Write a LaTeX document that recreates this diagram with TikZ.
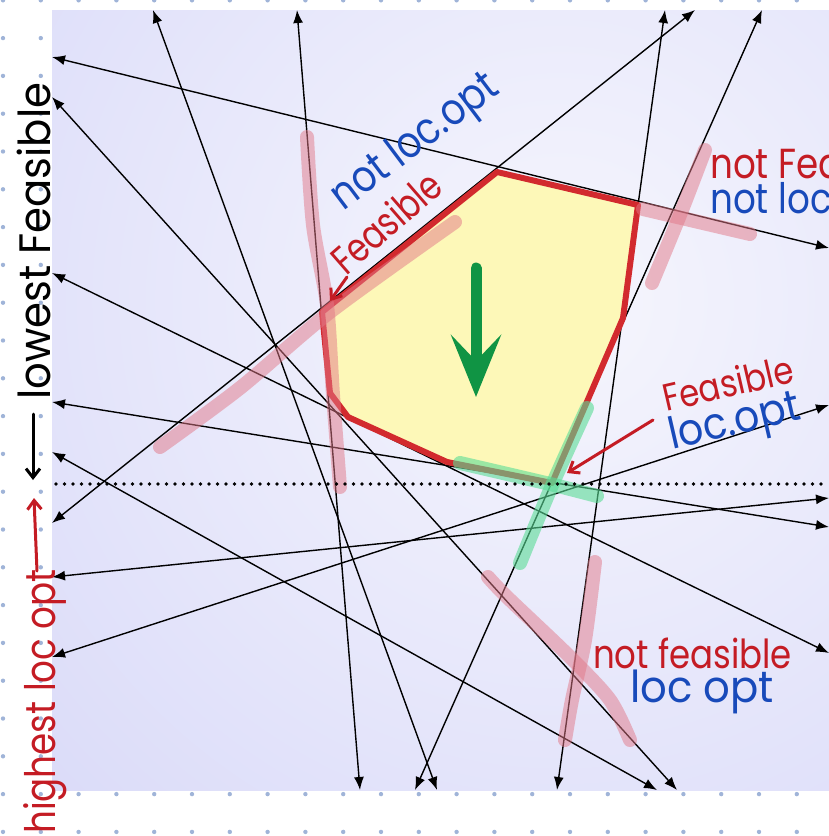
\documentclass[tikz,border=0pt]{standalone}
\usepackage{fontspec}
\setmainfont{Poppins}
\usetikzlibrary{arrows.meta}

\definecolor{feasred}{RGB}{196,28,36}
\definecolor{optblue}{RGB}{24,74,186}
\definecolor{polyred}{RGB}{210,42,46}
\definecolor{polyfill}{RGB}{253,248,184}
\definecolor{hlpink}{RGB}{226,120,136}
\definecolor{hlgreen}{RGB}{90,220,150}
\definecolor{downgreen}{RGB}{16,148,68}
\definecolor{bginner}{RGB}{246,246,253}
\definecolor{bgouter}{RGB}{202,203,246}
\definecolor{dotblue}{RGB}{160,180,216}

\begin{document}
\begin{tikzpicture}[x=1pt, y=-1pt,
  cut/.style={draw=black, line width=1.4pt, {Latex[length=13pt,width=10pt]}-{Latex[length=13pt,width=10pt]}},
  region/.style={draw=polyred, fill=polyfill, line width=6pt, line join=round},
  hlred/.style={draw=hlpink, line width=14pt, line cap=round, line join=round, opacity=0.5},
  hlgrn/.style={draw=hlgreen, line width=14pt, line cap=round, line join=round, opacity=0.6},
  redtxt/.style={text=feasred, inner sep=0pt},
  bluetxt/.style={text=optblue, inner sep=0pt},
  note/.style={-{Straight Barb[length=9pt,width=14pt]}, line width=3pt, line cap=round},
  dotline/.style={line width=3.6pt, line cap=round, dash pattern=on 0pt off 8.5pt}
]
  \useasboundingbox (0,0) rectangle (829,836);
  \clip (0,0) rectangle (829,836);

  % Paper dots
  \foreach \i in {0,...,22} {
    \foreach \j in {0,...,22} {
      \fill[dotblue] (3+37.8*\i, 0.3+37.8*\j) circle (2.2);
    }
  }

  % Shaded plane
  \fill[bgouter] (52,10) rectangle (840,790);
  \begin{scope}
    \clip (52,10) rectangle (840,790);
    \shade[inner color=bginner, outer color=bgouter] (560,300) circle (1150);
  \end{scope}

  % Ends of the lines on the border
  \foreach \n/\x in {1/153, 2/297, 3/665, 4/695, 5/762}
    \coordinate (t\n) at (\x,10);
  \foreach \n/\y in {1/57, 2/97, 3/273, 4/402, 5/452, 6/523, 7/577, 8/657}
    \coordinate (l\n) at (52,\y);
  \foreach \n/\x in {1/360, 2/415, 3/437, 4/557, 5/657, 6/677}
    \coordinate (b\n) at (\x,790);
  \foreach \n/\y in {1/248, 2/405, 3/498, 4/527, 5/653}
    \coordinate (r\n) at (829,\y);

  % Feasible region
  \coordinate (p1) at (497,172);
  \coordinate (p2) at (638,205);
  \coordinate (p3) at (623,318);
  \coordinate (p4) at (552,483);
  \coordinate (p5) at (447,462);
  \coordinate (p6) at (348,417);
  \coordinate (p7) at (330,393);
  \coordinate (p8) at (322,312);
  \fill[polyfill] (p1) -- (p2) -- (p3) -- (p4) -- (p5) -- (p6) -- (p7) -- (p8) -- cycle;

  % Constraint lines
  \foreach \a/\b in {l1/r1, t1/b3, t2/b1, t3/b4, t4/l6, t5/b2,
                     l2/b6, l3/r5, l4/r4, l5/b5, l7/r3, l8/r2}
    \draw[cut] (\a) -- (\b);

  \draw[region, fill=none] (p1) -- (p2) -- (p3) -- (p4) -- (p5) -- (p6) -- (p7) -- (p8) -- cycle;

  % Highlights
  \draw[hlred] plot[smooth] coordinates {(307,137) (313,225) (327,305) (333,395) (340,487)};
  \draw[hlred] plot[smooth] coordinates {(160,447) (240,388) (330,312) (455,222)};
  \draw[hlred] (643,209) -- (750,234);
  \draw[hlred] plot[smooth] coordinates {(705,150) (680,215) (652,283)};
  \draw[hlred] plot[smooth] coordinates {(488,577) (507,597) (570,657) (610,700) (630,740)};
  \draw[hlred] plot[smooth] coordinates {(595,562) (585,640) (572,700) (565,740)};
  \draw[hlgrn] plot[smooth] coordinates {(460,463) (550,484) (597,496)};
  \draw[hlgrn] plot[smooth] coordinates {(587,408) (553,483) (520,563)};

  % Level of the objective
  \coordinate (dl) at (56,484);
  \coordinate (dr) at (829,484);
  \draw[dotline] (dl) -- (dr);

  % Descent direction
  \coordinate (gtop) at (476,268);
  \coordinate (gtip) at (476,397);
  \draw[downgreen, line width=11pt, line cap=round, -{Stealth[length=62pt,width=50pt,inset=26pt]}] (gtop) -- (gtip);

  % Labels
  \node[bluetxt, rotate=37, xscale=0.85, font=\fontsize{44}{46}\selectfont] (nlo1) at (416,143) {not loc.opt};
  \node[redtxt, rotate=41, xscale=0.8, font=\fontsize{40}{42}\selectfont] (fe1) at (386,222) {Feasible};
  \coordinate (fe1tail) at (347,277);
  \coordinate (fe1tip) at (330,301);
  \draw[note, feasred] (fe1tail) -- (fe1tip);

  \node[redtxt, anchor=base west, xscale=0.85, font=\fontsize{42}{44}\selectfont] (nf2) at (710,178) {not Feasible};
  \node[bluetxt, anchor=base west, xscale=0.85, font=\fontsize{42}{44}\selectfont] (nlo2) at (710,213) {not loc.opt};

  \node[redtxt, rotate=13, xscale=0.85, font=\fontsize{38}{40}\selectfont] (fe3) at (728,383) {Feasible};
  \node[bluetxt, rotate=13, xscale=0.9, font=\fontsize{44}{46}\selectfont] (lo3) at (735,424) {loc.opt};
  \coordinate (fe3tail) at (653,420);
  \coordinate (fe3tip) at (567,473);
  \draw[note, feasred] (fe3tail) -- (fe3tip);

  \node[redtxt, anchor=base west, xscale=0.85, font=\fontsize{40}{42}\selectfont] (nf4) at (593,668) {not feasible};
  \node[bluetxt, anchor=base west, xscale=0.95, font=\fontsize{44}{46}\selectfont] (lo4) at (630,702) {loc opt};

  % Side notes
  \node[redtxt, rotate=90, xscale=0.85, anchor=base west, font=\fontsize{42}{44}\selectfont] (hi) at (56,834) {highest loc opt};
  \node[anchor=base west, rotate=90, xscale=0.95, inner sep=0pt, font=\fontsize{44}{46}\selectfont] (lo) at (50,400) {lowest Feasible};
  \coordinate (hitail) at (37,571);
  \coordinate (hitip) at (34,498);
  \draw[note, feasred] (hitail) -- (hitip);
  \coordinate (lotail) at (33,414);
  \coordinate (lotip) at (33,480);
  \draw[note, black] (lotail) -- (lotip);
\end{tikzpicture}
\end{document}
